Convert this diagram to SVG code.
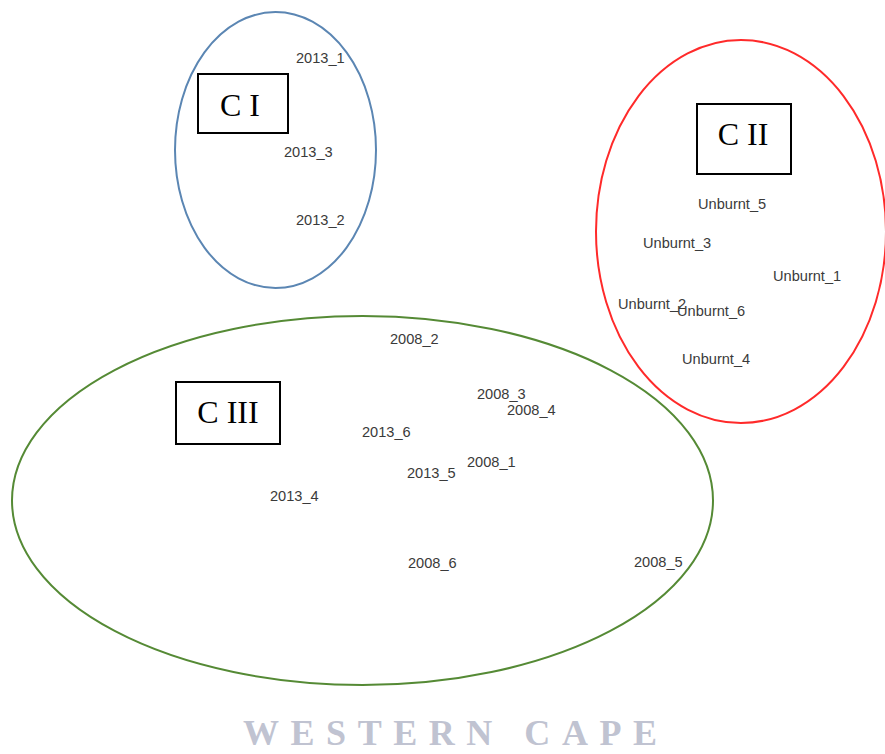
<svg xmlns="http://www.w3.org/2000/svg" width="885" height="754" viewBox="0 0 885 754">
<style>
.lbl{font-family:"Liberation Sans",Arial,sans-serif;font-size:14.6px;fill:#3a3a3a}
.box{fill:#fff;stroke:#000;stroke-width:2}
.bt{font-family:"Liberation Serif","Times New Roman",serif;font-size:32px;fill:#000;text-anchor:middle}
.cl{fill:none;stroke-width:2}
</style>
<rect width="885" height="754" fill="#fff"/>
<g id="connectors"></g>
<g id="cluster1">
<ellipse class="cl" cx="275.5" cy="150" rx="100.5" ry="138" stroke="#5b86b3"/>
<rect class="box" x="198" y="74" width="90" height="59"/>
<text class="bt" x="240" y="116">C I</text>
</g>
<g id="cluster2">
<ellipse class="cl" cx="741" cy="231.5" rx="145" ry="191.5" stroke="#ff2a2a"/>
<rect class="box" x="697" y="104" width="94" height="70"/>
<text class="bt" x="743" y="145">C II</text>
</g>
<g id="cluster3">
<ellipse class="cl" cx="362.5" cy="500.5" rx="350.5" ry="184.5" stroke="#558a35"/>
<rect class="box" x="176" y="382" width="104" height="62"/>
<text class="bt" x="228" y="423">C III</text>
</g>
<g id="n2013_1"><text class="lbl" x="296" y="63">2013_1</text></g>
<g id="n2013_3"><text class="lbl" x="284" y="157">2013_3</text></g>
<g id="n2013_2"><text class="lbl" x="296" y="225">2013_2</text></g>
<g id="nU5"><text class="lbl" x="698" y="209">Unburnt_5</text></g>
<g id="nU3"><text class="lbl" x="643" y="248">Unburnt_3</text></g>
<g id="nU1"><text class="lbl" x="773" y="281">Unburnt_1</text></g>
<g id="nU2"><text class="lbl" x="618" y="309">Unburnt_2</text></g>
<g id="nU6"><text class="lbl" x="677" y="316">Unburnt_6</text></g>
<g id="nU4"><text class="lbl" x="682" y="364">Unburnt_4</text></g>
<g id="n2008_2"><text class="lbl" x="390" y="344">2008_2</text></g>
<g id="n2008_3"><text class="lbl" x="477" y="399">2008_3</text></g>
<g id="n2008_4"><text class="lbl" x="507" y="415">2008_4</text></g>
<g id="n2013_6"><text class="lbl" x="362" y="437">2013_6</text></g>
<g id="n2008_1"><text class="lbl" x="467" y="467">2008_1</text></g>
<g id="n2013_5"><text class="lbl" x="407" y="478">2013_5</text></g>
<g id="n2013_4"><text class="lbl" x="270" y="501">2013_4</text></g>
<g id="n2008_6"><text class="lbl" x="408" y="568">2008_6</text></g>
<g id="n2008_5"><text class="lbl" x="634" y="567">2008_5</text></g>
<text x="243" y="745" textLength="414" lengthAdjust="spacing" font-family="'Liberation Serif','Times New Roman',serif" font-weight="bold" font-size="36" fill="#c0c3d1">WESTERN CAPE</text>
</svg>
